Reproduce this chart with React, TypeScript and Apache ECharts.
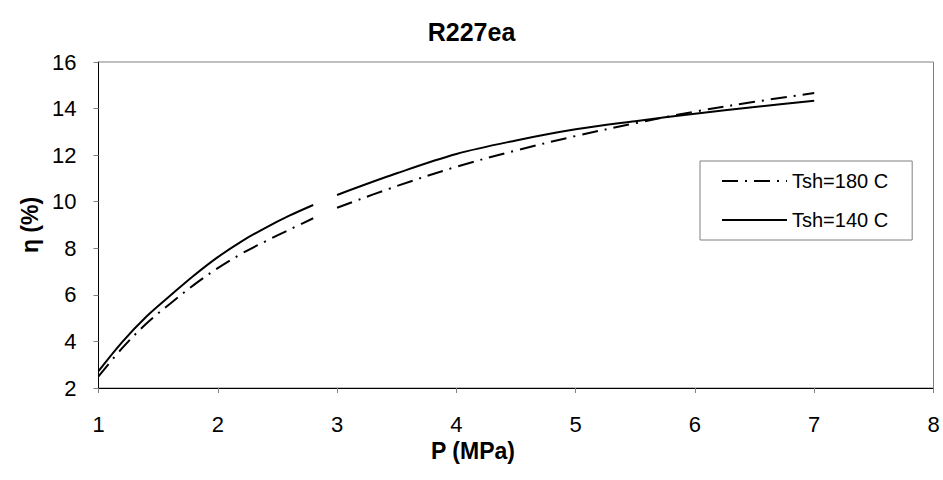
import React, { useEffect, useRef } from "react";
import * as echarts from "echarts";

const P = [1, 1.2, 1.4, 1.6, 1.8, 2.0, 2.2, 2.4, 2.6, 2.8, 2.9, 3.0, 3.5, 4.0, 4.5, 5.0, 5.5, 6.0, 6.5, 7.0];
const eta180 = [2.5, 3.72, 4.76, 5.62, 6.43, 7.15, 7.77, 8.3, 8.8, 9.29, null, 9.74, 10.67, 11.5, 12.2, 12.82, 13.37, 13.87, 14.29, 14.67];
const eta140 = [2.72, 3.98, 5.06, 5.96, 6.83, 7.62, 8.3, 8.88, 9.4, 9.86, null, 10.29, 11.22, 12.05, 12.63, 13.11, 13.46, 13.78, 14.07, 14.34];
const seriesNames = ["Tsh=180 C", "Tsh=140 C"];

const FONT = "'Liberation Sans', Arial, sans-serif";

export default function App() {
  const ref = useRef<HTMLDivElement>(null);
  useEffect(() => {
    if (!ref.current) return;
    const chart = echarts.init(ref.current, null, { renderer: "svg" });
    const pairs = (ys: (number | null)[]) => P.map((x, i) => [x, ys[i] === null ? "-" : ys[i]]);
    chart.setOption({
      animation: false,
      backgroundColor: "#ffffff",
      title: {
        text: "R227ea",
        left: "center",
        top: 14,
        textStyle: { fontFamily: FONT, fontWeight: "bold", fontSize: 25, color: "#000" },
      },
      grid: {
        left: 98.5,
        right: 9.5,
        top: 62,
        bottom: 92,
        show: true,
        borderColor: "#808080",
        borderWidth: 1,
        backgroundColor: "transparent",
      },
      legend: {
        orient: "vertical",
        left: 700,
        top: 161,
        padding: [10, 24, 10, 21],
        itemGap: 19,
        itemWidth: 65,
        itemHeight: 20,
        backgroundColor: "#fff",
        borderColor: "#808080",
        borderWidth: 1,
        borderRadius: 0,
        itemStyle: { opacity: 0, borderWidth: 0 },
        textStyle: { fontFamily: FONT, fontSize: 20, color: "#000" },
        data: seriesNames,
      },
      xAxis: {
        type: "value",
        min: 1,
        max: 8,
        interval: 1,
        name: "P (MPa)",
        nameLocation: "middle",
        nameGap: 51,
        nameTextStyle: { fontFamily: FONT, fontWeight: "bold", fontSize: 23, color: "#000", padding: [0, 86, 0, 0] },
        axisLine: { show: true, lineStyle: { color: "#000", width: 1 } },
        axisTick: { show: true, inside: false, length: 5, lineStyle: { color: "#808080" } },
        axisLabel: { fontFamily: FONT, fontSize: 22, color: "#000", margin: 25 },
        splitLine: { show: false },
      },
      yAxis: {
        type: "value",
        min: 2,
        max: 16,
        interval: 2,
        name: "η (%)",
        nameLocation: "middle",
        nameGap: 56,
        nameRotate: 90,
        nameTextStyle: { fontFamily: FONT, fontWeight: "bold", fontSize: 23, color: "#000" },
        axisLine: { show: true, lineStyle: { color: "#000", width: 1 } },
        axisTick: { show: true, inside: false, length: 5, lineStyle: { color: "#808080" } },
        axisLabel: { fontFamily: FONT, fontSize: 22, color: "#000", margin: 22 },
        splitLine: { show: false },
      },
      series: [
        {
          name: seriesNames[0],
          type: "line",
          data: pairs(eta180),
          symbol: "none",
          smooth: 0.35,
          connectNulls: false,
          lineStyle: { color: "#000", width: 2, type: [16, 7, 2, 7] },
          itemStyle: { color: "#000", opacity: 0 },
        },
        {
          name: seriesNames[1],
          type: "line",
          data: pairs(eta140),
          symbol: "none",
          smooth: 0.35,
          connectNulls: false,
          lineStyle: { color: "#000", width: 2, type: "solid" },
          itemStyle: { color: "#000", opacity: 0 },
        },
      ],
    });
    return () => chart.dispose();
  }, []);
  return <div ref={ref} style={{ width: 943, height: 480, position: "absolute", left: 0, top: 0 }} />;
}
